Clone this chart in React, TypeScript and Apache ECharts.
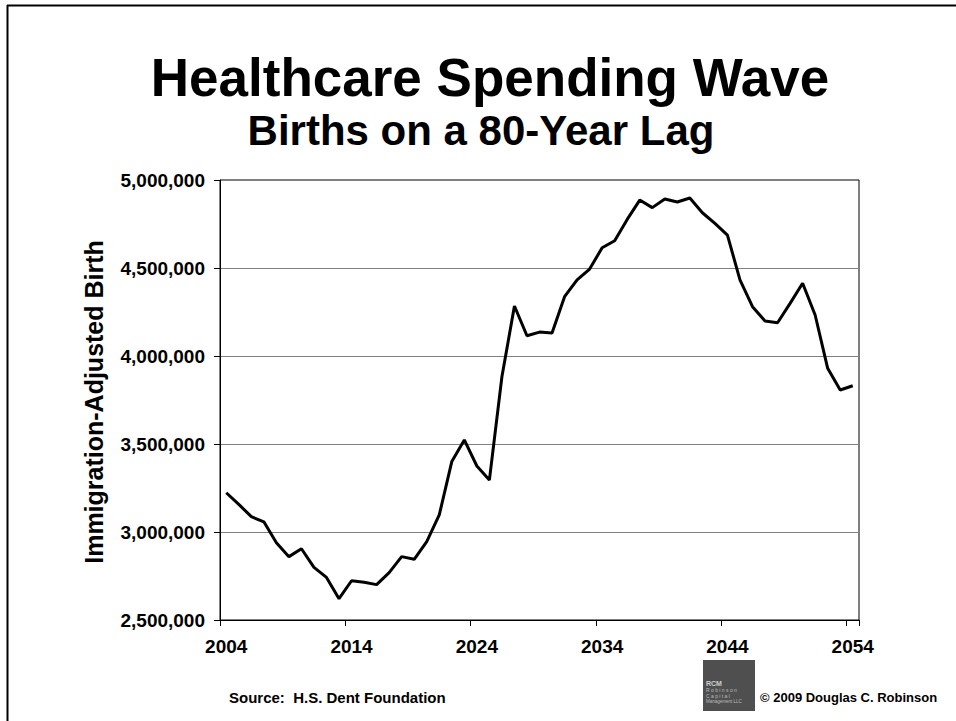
import React, { useEffect, useRef } from "react";
import * as echarts from "echarts";

const years: string[] = [];
for (let y = 2004; y <= 2054; y++) years.push(String(y));

const births: number[] = [
  3223000, 3157000, 3087000, 3058000, 2939000, 2860000, 2905000, 2799000, 2742000, 2621000,
  2723000, 2714000, 2701000, 2769000, 2860000, 2845000, 2945000, 3097000, 3400000, 3523000,
  3375000, 3295000, 3882000, 4284000, 4115000, 4136000, 4131000, 4337000, 4432000, 4494000,
  4615000, 4655000, 4776000, 4886000, 4843000, 4892000, 4875000, 4898000, 4814000, 4754000,
  4687000, 4432000, 4280000, 4199000, 4189000, 4299000, 4413000, 4233000, 3930000, 3807000,
  3831000,
];

const titleText = "Healthcare Spending Wave";
const subtitleText = "Births on a 80-Year Lag";
const yAxisTitle = "Immigration-Adjusted Birth";
const sourceText = "Source:  H.S. Dent Foundation";
const copyrightText = "© 2009 Douglas C. Robinson";
const logoLines = ["RCM", "R o b i n s o n", "C a p i t a l", "Management LLC"];

const FONT = '"Liberation Sans", Arial, Helvetica, sans-serif';

export default function App() {
  const ref = useRef<HTMLDivElement>(null);

  useEffect(() => {
    if (!ref.current) return;
    const chart = echarts.init(ref.current, null, { renderer: "svg" });
    const fmt = (v: number) => String(Math.round(v)).replace(/\B(?=(\d{3})+(?!\d))/g, ",");
    chart.setOption({
      animation: false,
      backgroundColor: "#fff",
      textStyle: { fontFamily: FONT },
      grid: {
        left: 220,
        top: 180,
        width: 639,
        height: 440,
        show: true,
        borderColor: "#000",
        borderWidth: 1,
        backgroundColor: "transparent",
        containLabel: false,
      },
      xAxis: {
        type: "category",
        data: years,
        boundaryGap: true,
        axisLine: { show: true, lineStyle: { color: "#000", width: 1 } },
        axisTick: { show: true, interval: 9, length: 6, lineStyle: { color: "#000", width: 1 } },
        axisLabel: {
          interval: 9,
          fontSize: 19,
          fontWeight: "bold",
          color: "#000",
          margin: 17,
          fontFamily: FONT,
        },
        splitLine: { show: false },
      },
      yAxis: {
        type: "value",
        min: 2500000,
        max: 5000000,
        interval: 500000,
        axisLine: { show: true, lineStyle: { color: "#000", width: 1 } },
        axisTick: { show: true, length: 6, lineStyle: { color: "#000", width: 1 } },
        axisLabel: {
          fontSize: 19,
          fontWeight: "bold",
          color: "#000",
          margin: 15,
          fontFamily: FONT,
          formatter: (v: number) => fmt(v),
        },
        splitLine: {
          show: true,
          showMinLine: false,
          showMaxLine: false,
          lineStyle: { color: "#808080", width: 1 },
        },
      },
      series: [
        {
          type: "line",
          data: births,
          symbol: "none",
          smooth: false,
          lineStyle: { color: "#000", width: 3 },
          z: 5,
        },
      ],
      graphic: [
        { type: "line", shape: { x1: 7, y1: 5.5, x2: 956, y2: 5.5 }, style: { stroke: "#000", lineWidth: 2 } },
        { type: "line", shape: { x1: 7.5, y1: 5, x2: 7.5, y2: 721 }, style: { stroke: "#000", lineWidth: 2 } },
        {
          type: "text",
          x: 490,
          y: 77,
          style: {
            text: titleText,
            font: `bold 53px ${FONT}`,
            fill: "#000",
            align: "center",
            verticalAlign: "middle",
          },
        },
        {
          type: "text",
          x: 481,
          y: 130,
          style: {
            text: subtitleText,
            font: `bold 42px ${FONT}`,
            fill: "#000",
            align: "center",
            verticalAlign: "middle",
          },
        },
        {
          type: "text",
          x: 94,
          y: 402,
          rotation: Math.PI / 2,
          style: {
            text: yAxisTitle,
            font: `bold 25px ${FONT}`,
            fill: "#000",
            align: "center",
            verticalAlign: "middle",
          },
        },
        {
          type: "text",
          x: 229,
          y: 697,
          style: {
            text: sourceText,
            font: `bold 15px ${FONT}`,
            fill: "#000",
            align: "left",
            verticalAlign: "middle",
          },
        },
        {
          type: "text",
          x: 760,
          y: 697,
          style: {
            text: copyrightText,
            font: `bold 13px ${FONT}`,
            fill: "#000",
            align: "left",
            verticalAlign: "middle",
          },
        },
        {
          type: "rect",
          shape: { x: 703, y: 660, width: 52, height: 51 },
          style: { fill: "#4f4f4f" },
        },
        {
          type: "text",
          x: 706,
          y: 683,
          style: { text: logoLines[0], font: `bold 7px ${FONT}`, fill: "#cfcfcf", align: "left", verticalAlign: "middle" },
        },
        {
          type: "text",
          x: 706,
          y: 690,
          style: { text: logoLines[1], font: `5px ${FONT}`, fill: "#bdbdbd", align: "left", verticalAlign: "middle" },
        },
        {
          type: "text",
          x: 706,
          y: 695.5,
          style: { text: logoLines[2], font: `5px ${FONT}`, fill: "#bdbdbd", align: "left", verticalAlign: "middle" },
        },
        {
          type: "text",
          x: 706,
          y: 701,
          style: { text: logoLines[3], font: `4.5px ${FONT}`, fill: "#bdbdbd", align: "left", verticalAlign: "middle" },
        },
      ],
    });
    return () => chart.dispose();
  }, []);

  return (
    <div
      ref={ref}
      style={{ position: "fixed", left: 0, top: 0, width: 956, height: 721 }}
    />
  );
}
